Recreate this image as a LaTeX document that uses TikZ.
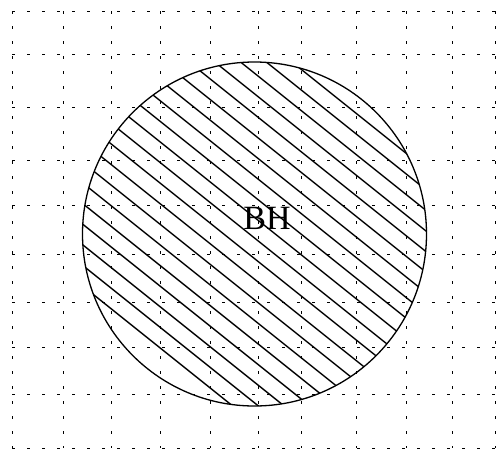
\documentclass[tikz,border=0pt]{standalone}
\usepackage{fontspec}
\setmainfont{Liberation Serif}
\tikzset{
  gridline/.style={
    line width=1pt,
    dash pattern=on 3pt off 12pt
  },
  rim/.style={
    draw,
    line width=1.3pt
  },
  hatchline/.style={
    line width=1.4pt
  },
  label/.style={
    font=\fontsize{34}{34}\selectfont,
    inner sep=0pt
  }
}

\begin{document}
\begin{tikzpicture}[x=1pt,y=-1pt]
\useasboundingbox (0,0) rectangle (497,450);

% dotted grid
\foreach \gy in {11,54,107,160,205,254,302,347,394,448}
  \draw[gridline] (12,\gy) -- (495,\gy);
\foreach \gx in {12,63,111,160,210,258,301,356,406,452,495}
  \draw[gridline] (\gx,11) -- (\gx,448);

% hatched disc
\coordinate (centre) at (254.5,234);
\begin{scope}
  \clip (centre) circle (172pt);
  \foreach \k in {-3,...,16}
    \draw[hatchline] (0,158-20.6*\k) -- (497,555.6-20.6*\k);
\end{scope}
\draw[rim] (centre) circle (172pt);

\node[label] (bh) at (267,218) {BH};

\end{tikzpicture}
\end{document}
